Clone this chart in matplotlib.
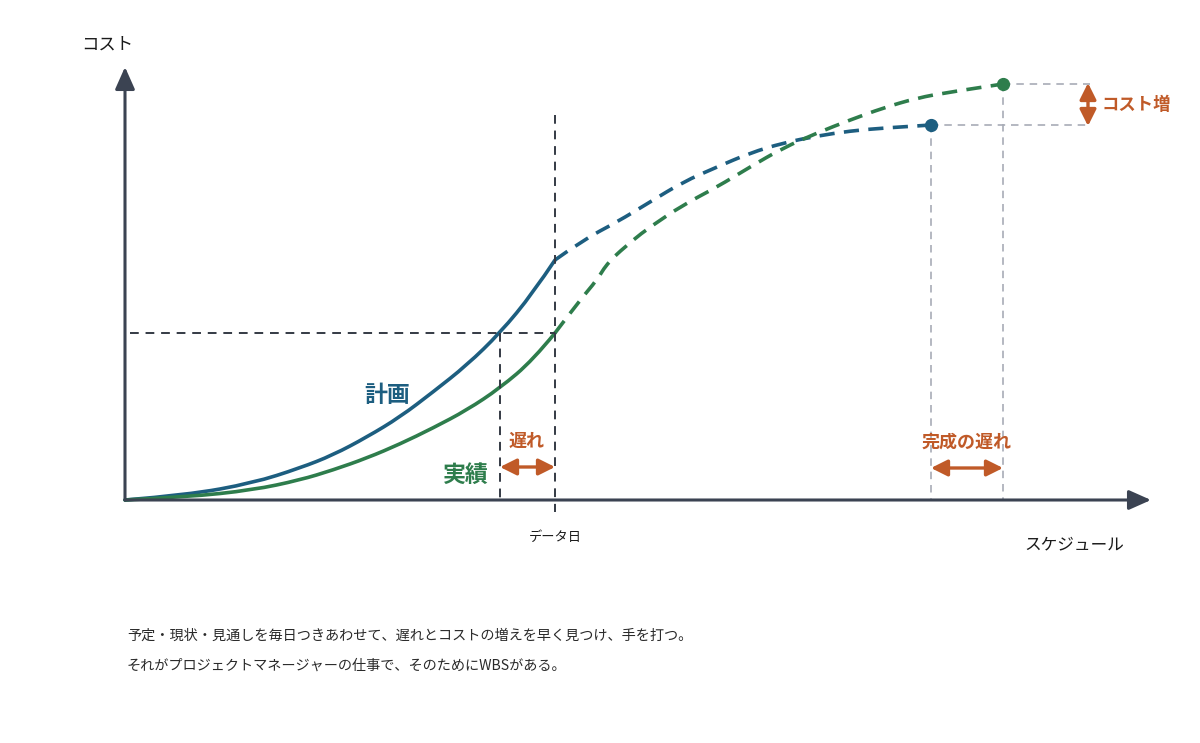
import numpy as np
import matplotlib
matplotlib.use("Agg")
import matplotlib.pyplot as plt
from matplotlib.path import Path
from matplotlib.patches import PathPatch

plt.rcParams['font.family'] = ['Noto Sans CJK JP', 'DejaVu Sans']

# chart units: x = schedule, y = cost (origin at the axes corner)
plan_x = [0, 62, 128, 175, 208, 242, 275, 308, 342, 375, 408, 430]
plan_y = [0, 5, 17, 32, 45, 63, 83, 108, 135, 167, 207, 240]
plan_fc_x = [430, 458, 492, 525, 558, 592, 625, 658, 692, 725, 758, 806]
plan_fc_y = [240, 260, 278, 298, 318, 333, 347, 357, 364, 369, 372, 375]

act_x = [0, 62, 128, 175, 208, 242, 275, 308, 342, 375, 408, 430]
act_y = [0, 3, 10, 20, 30, 42, 56, 72, 90, 112, 140, 167]
act_fc_x = [430, 455, 472, 483, 508, 525, 558, 592, 625, 658, 692, 725, 758, 792, 825, 878]
act_fc_y = [167, 200, 220, 238, 260, 273, 295, 313, 333, 352, 367, 380, 392, 402, 408, 416]

data_date = 430
delay_start = 375
plan_end = (806, 375)
act_end = (878, 416)

BLUE = '#1d5e80'
GREEN = '#2e7d4c'
ORANGE = '#c05a28'
AXIS = '#3b4352'
DARK = '#343a44'
GRAY = '#a8acb6'


def smooth_path(xs, ys):
    # quadratic bezier through midpoints, read points act as control points
    pts = list(zip(xs, ys))
    verts = [pts[0]]
    codes = [Path.MOVETO]
    for i in range(1, len(pts) - 1):
        nxt = pts[i + 1] if i == len(pts) - 2 else ((pts[i][0] + pts[i + 1][0]) / 2,
                                                    (pts[i][1] + pts[i + 1][1]) / 2)
        verts += [pts[i], nxt]
        codes += [Path.CURVE3, Path.CURVE3]
    return Path(verts, codes)


fig = plt.figure(figsize=(12, 7.43), dpi=100)
ax = fig.add_axes([0, 0, 1, 1])
ax.set_xlim(-125, 1075)
ax.set_ylim(-243, 500)
ax.axis('off')

# axes with arrowheads
axis_arrow = dict(arrowstyle='-|>,head_length=0.9,head_width=0.4', color=AXIS, lw=2.2,
                  shrinkA=0, shrinkB=0, mutation_scale=15)
ax.annotate('', xy=(0, 433), xytext=(0, 0), arrowprops=axis_arrow)
ax.annotate('', xy=(1026, 0), xytext=(0, 0), arrowprops=axis_arrow)

# guide lines
dash_dark = dict(color=DARK, lw=1.4, ls=(0, (4.5, 3.5)))
ax.plot([5, data_date], [act_y[-1], act_y[-1]], **dash_dark)
ax.plot([delay_start, delay_start], [act_y[-1], 0], **dash_dark)
ax.plot([data_date, data_date], [385, -12], **dash_dark)

dash_gray = dict(color=GRAY, lw=1.2, ls=(0, (4.5, 3.5)))
ax.plot([plan_end[0], plan_end[0]], [plan_end[1], 0], **dash_gray)
ax.plot([act_end[0], act_end[0]], [act_end[1], 0], **dash_gray)
ax.plot([plan_end[0], 965], [plan_end[1], plan_end[1]], **dash_gray)
ax.plot([act_end[0], 965], [act_end[1], act_end[1]], **dash_gray)

# curves
ax.add_patch(PathPatch(smooth_path(plan_x, plan_y), fill=False, edgecolor=BLUE, lw=2.6,
                       capstyle='round', joinstyle='round'))
ax.add_patch(PathPatch(smooth_path(plan_fc_x, plan_fc_y), fill=False, edgecolor=BLUE, lw=2.6,
                       ls=(0, (4.2, 2.6))))
ax.add_patch(PathPatch(smooth_path(act_x, act_y), fill=False, edgecolor=GREEN, lw=2.6,
                       capstyle='round', joinstyle='round'))
ax.add_patch(PathPatch(smooth_path(act_fc_x, act_fc_y), fill=False, edgecolor=GREEN, lw=2.6,
                       ls=(0, (4.2, 2.6))))
ax.plot(*plan_end, 'o', color=BLUE, ms=8.5)
ax.plot(*act_end, 'o', color=GREEN, ms=8.5)

# orange double arrows
arr = dict(arrowstyle='<|-|>,head_length=0.9,head_width=0.45', color=ORANGE, lw=2.4,
           shrinkA=0, shrinkB=0, mutation_scale=11)
ax.annotate('', xy=(delay_start, 33), xytext=(data_date, 33), arrowprops=arr)
ax.annotate('', xy=(plan_end[0], 32), xytext=(act_end[0], 32), arrowprops=arr)
ax.annotate('', xy=(963, act_end[1] + 1), xytext=(963, plan_end[1] - 1), arrowprops=arr)

# labels
ax.text(262, 105, '計画', color=BLUE, fontsize=16.5, fontweight='bold', ha='center', va='center')
ax.text(341, 25, '実績', color=GREEN, fontsize=16.5, fontweight='bold', ha='center', va='center')
ax.text(402, 59, '遅れ', color=ORANGE, fontsize=13, fontweight='bold', ha='center', va='center')
ax.text(842, 58, '完成の遅れ', color=ORANGE, fontsize=13, fontweight='bold', ha='center', va='center')
ax.text(976, 395, 'コスト増', color=ORANGE, fontsize=12.5, fontweight='bold', ha='left', va='center')

ax.text(-18, 455, 'コスト', color='#1a1a1a', fontsize=12.5, ha='center', va='center')
ax.text(949, -45, 'スケジュール', color='#1a1a1a', fontsize=12, ha='center', va='center')
ax.text(data_date, -37, 'データ日', color='#1a1a1a', fontsize=9.5, ha='center', va='center')

ax.text(2, -136, '予定・現状・見通しを毎日つきあわせて、遅れとコストの増えを早く見つけ、手を打つ。',
        color='#2a2a2a', fontsize=10.2, ha='left', va='center')
ax.text(2, -166, 'それがプロジェクトマネージャーの仕事で、そのためにWBSがある。',
        color='#2a2a2a', fontsize=10.2, ha='left', va='center')

fig.savefig('out.png', dpi=100, facecolor='white')
